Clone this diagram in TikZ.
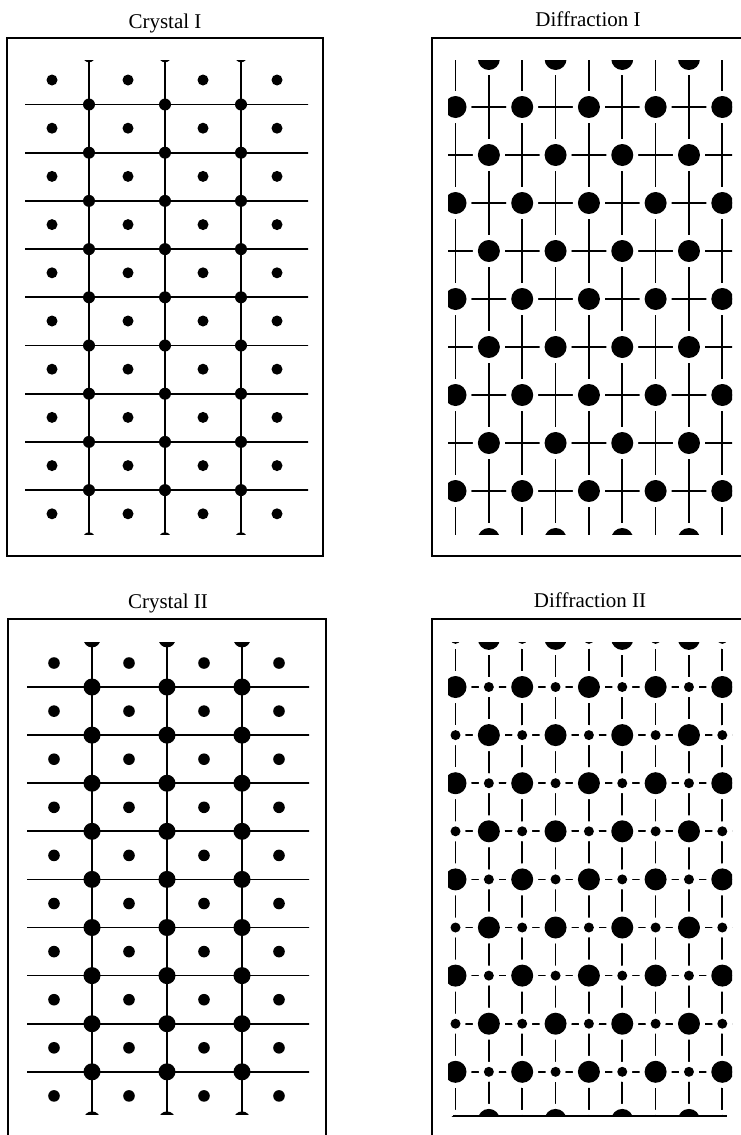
\documentclass[tikz,border=0pt]{standalone}
\usepackage{fontspec}
\setmainfont{Liberation Serif}
\begin{document}
\begin{tikzpicture}[x=1pt,y=-1pt,
  frame/.style={line width=2.6pt},
  latline/.style={line width=1.7pt},
  title/.style={font=\fontsize{21}{24}\selectfont, anchor=base, inner sep=0pt}]
\useasboundingbox (0,0) rectangle (740,1135);

% ---------- titles ----------
\node[title] (t1) at (165,28) {Crystal I};
\node[title] (t2) at (588,27) {Diffraction I};
\node[title] (t3) at (168,608) {Crystal II};
\node[title] (t4) at (590,607) {Diffraction II};

% ---------- Crystal I ----------
\draw[frame] (7,38) rectangle (323,556);
\begin{scope}
  \clip (25,60) rectangle (308,534);
  \foreach \k in {0,...,8} \draw[latline] (0,{104.5+48.2*\k}) -- (340,{104.5+48.2*\k});
  \foreach \x in {89,165,241} \draw[latline] (\x,0) -- (\x,600);
  \foreach \x in {89,165,241} \foreach \k in {-1,...,9} \fill (\x,{104.5+48.2*\k}) circle (6);
\end{scope}
\foreach \x in {52,128,203,277} \foreach \k in {0,...,9} \fill (\x,{80+48.2*\k}) circle (5.5);

% ---------- Crystal II ----------
\draw[frame] (8,619) rectangle (326,1150);
\begin{scope}
  \clip (27,642) rectangle (309,1114);
  \foreach \k in {0,...,8} \draw[latline] (0,{687+48.1*\k}) -- (340,{687+48.1*\k});
  \foreach \x in {92,167,242} \draw[latline] (\x,600) -- (\x,1135);
  \foreach \x in {92,167,242} \foreach \k in {-1,...,9} \fill (\x,{687+48.1*\k}) circle (8.5);
\end{scope}
\foreach \x in {54,129,204,279} \foreach \k in {0,...,9} \fill (\x,{663+48.1*\k}) circle (5.8);

% ---------- Diffraction I ----------
\draw[frame] (750,38) -- (432,38) -- (432,556) -- (750,556);
\begin{scope}
  \clip (448,60) rectangle (732,534);
  \foreach \i in {0,...,8} \draw[latline] (440,{107+48*\i}) -- (740,{107+48*\i});
  \foreach \j in {0,...,8} \draw[latline] ({455.5+33.35*\j},40) -- ({455.5+33.35*\j},560);
  \foreach \i in {-1,...,9} \foreach \j in {0,...,8} {
    \pgfmathtruncatemacro{\pty}{mod(\i+\j+10,2)}
    \ifnum\pty=0
      \fill[white] ({455.5+33.35*\j},{107+48*\i}) circle (16);
      \fill ({455.5+33.35*\j},{107+48*\i}) circle (11);
    \fi
  }
\end{scope}

% ---------- Diffraction II ----------
\draw[frame] (750,619) -- (432,619) -- (432,1150);
\begin{scope}
  \clip (448,642) rectangle (732,1116);
  \foreach \i in {0,...,8} \draw[latline] (440,{687+48.1*\i}) -- (740,{687+48.1*\i});
  \foreach \j in {0,...,8} \draw[latline] ({455.5+33.35*\j},620) -- ({455.5+33.35*\j},1130);
  \foreach \i in {-1,...,9} \foreach \j in {0,...,8} {
    \pgfmathtruncatemacro{\pty}{mod(\i+\j+10,2)}
    \ifnum\pty=0
      \fill[white] ({455.5+33.35*\j},{687+48.1*\i}) circle (16);
    \else
      \fill[white] ({455.5+33.35*\j},{687+48.1*\i}) circle (10);
    \fi
  }
  \foreach \i in {-1,...,9} \foreach \j in {0,...,8} {
    \pgfmathtruncatemacro{\pty}{mod(\i+\j+10,2)}
    \ifnum\pty=0
      \fill ({455.5+33.35*\j},{687+48.1*\i}) circle (11);
    \else
      \fill ({455.5+33.35*\j},{687+48.1*\i}) circle (5);
    \fi
  }
\end{scope}
\draw[latline] (453,1116) -- (727,1116);
\end{tikzpicture}
\end{document}
